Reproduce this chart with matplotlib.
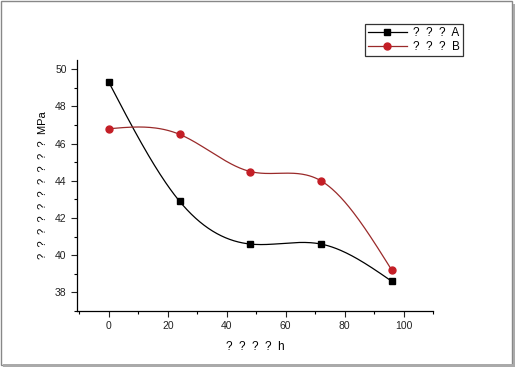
import numpy as np
import matplotlib
matplotlib.use("Agg")
import matplotlib.pyplot as plt
from matplotlib.patches import Rectangle
from matplotlib.ticker import MultipleLocator
from matplotlib.lines import Line2D

plt.rcParams['font.family'] = ['Liberation Sans', 'DejaVu Sans']

time_h = [0, 24, 48, 72, 96]
series_a = [49.3, 42.9, 40.6, 40.6, 38.6]
series_b = [46.8, 46.5, 44.5, 44.0, 39.2]
label_a = "?  ?  ?  A"
label_b = "?  ?  ?  B"
xlabel = "?  ?  ?  ?  h"
ylabel = "?  ?  ?  ?  ?  ?  ?  ?  ?  ?  MPa"


def natural_spline(x, y, n=200):
    x = np.asarray(x, float); y = np.asarray(y, float)
    k = len(x); h = np.diff(x)
    A = np.zeros((k, k)); r = np.zeros(k)
    A[0, 0] = A[-1, -1] = 1
    for i in range(1, k - 1):
        A[i, i - 1] = h[i - 1]; A[i, i] = 2 * (h[i - 1] + h[i]); A[i, i + 1] = h[i]
        r[i] = 6 * ((y[i + 1] - y[i]) / h[i] - (y[i] - y[i - 1]) / h[i - 1])
    M = np.linalg.solve(A, r)
    xs = np.linspace(x[0], x[-1], n)
    idx = np.clip(np.searchsorted(x, xs) - 1, 0, k - 2)
    x0 = x[idx]; x1 = x[idx + 1]; hh = x1 - x0
    ys = (M[idx] * (x1 - xs) ** 3 / (6 * hh) + M[idx + 1] * (xs - x0) ** 3 / (6 * hh)
          + (y[idx] / hh - M[idx] * hh / 6) * (x1 - xs)
          + (y[idx + 1] / hh - M[idx + 1] * hh / 6) * (xs - x0))
    return xs, ys


fig = plt.figure(figsize=(5.17, 3.67), dpi=100)
ax = fig.add_axes([0.149, 0.1526, 0.6885, 0.684])

red_line = '#9a2a2a'
red_mk = '#c41e26'

xs, ys = natural_spline(time_h, series_a)
ax.plot(xs, ys, color='black', lw=0.9)
ax.plot(time_h, series_a, ls='none', marker='s', ms=5, color='black')
xs, ys = natural_spline(time_h, series_b)
ax.plot(xs, ys, color=red_line, lw=0.9)
ax.plot(time_h, series_b, ls='none', marker='o', ms=5, color=red_mk)

ax.set_xlim(-10.8, 110)
ax.set_ylim(37, 50.5)
ax.xaxis.set_major_locator(MultipleLocator(20))
ax.xaxis.set_minor_locator(MultipleLocator(10))
ax.yaxis.set_major_locator(MultipleLocator(2))
ax.yaxis.set_minor_locator(MultipleLocator(1))
for s in ['top', 'right']:
    ax.spines[s].set_visible(False)
for s in ['left', 'bottom']:
    ax.spines[s].set_linewidth(0.9)
ax.tick_params(which='major', direction='out', length=4, width=0.8, labelsize=7.5, colors='#222222')
ax.tick_params(which='minor', direction='out', length=2.5, width=0.8)
ax.set_xlabel(xlabel, fontsize=8.5, labelpad=7)
ax.set_ylabel(ylabel, fontsize=8, labelpad=5)

handles = [Line2D([], [], color='black', marker='s', ms=5, lw=0.9),
           Line2D([], [], color=red_line, marker='o', ms=5, mfc=red_mk, mec=red_mk, lw=0.9)]
leg = fig.legend(handles, [label_a, label_b], loc='upper left', bbox_to_anchor=(365 / 517, 1 - 24 / 367),
                 fontsize=8.5, frameon=True, fancybox=False, edgecolor='black', handlelength=3.3,
                 borderpad=0.25, labelspacing=0.2, handletextpad=0.5, borderaxespad=0)
leg.get_frame().set_linewidth(0.9)

fig.patches.append(Rectangle((0.001, 0.006), 0.989, 0.99, transform=fig.transFigure, fill=False,
                             edgecolor='#888888', lw=1.0))
fig.patches.append(Rectangle((0.993, 0.0), 0.004, 0.99, transform=fig.transFigure, color='#aaaaaa', lw=0))
fig.patches.append(Rectangle((0.006, 0.0), 0.99, 0.008, transform=fig.transFigure, color='#aaaaaa', lw=0))

fig.savefig('out.png', dpi=100)
